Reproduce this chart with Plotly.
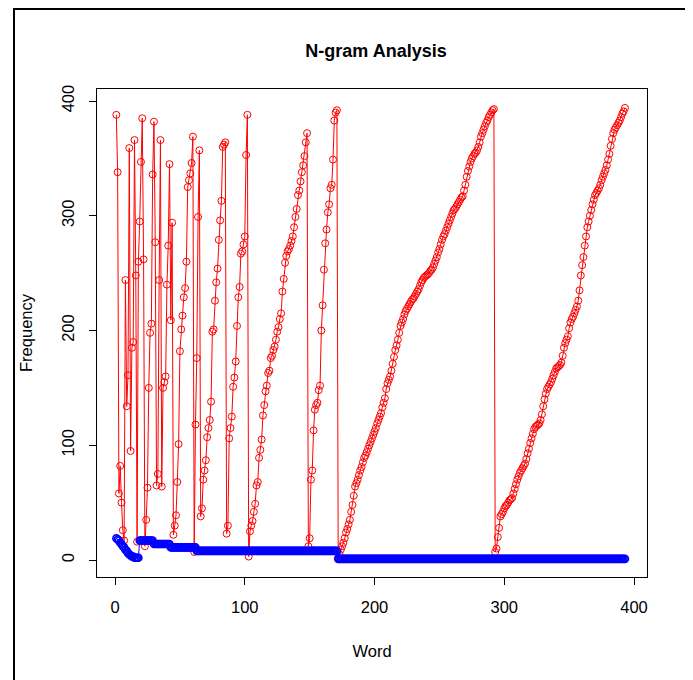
import plotly.graph_objects as go

# ---- data ----
red_early = [388, 338, 58, 82, 50, 26, 17, 244, 134, 161,
             359, 95, 185, 190, 366, 248, 16, 260, 295, 347,
             385, 262, 12, 35, 63, 150, 198, 206, 336, 382,
             277, 65, 75, 244, 366, 64, 150, 155, 160, 240,
             274, 345, 209, 294, 22, 30, 39, 68, 101, 182,
             201, 213, 229, 237, 260, 325, 331, 337, 346, 369,
             7, 118, 176, 299, 357, 38, 45, 70, 78, 87,
             107, 115, 122, 138, 199, 201, 226, 242, 254, 279,
             296, 313, 360, 362, 364, 23, 30, 106, 115, 125,
             151, 159, 173, 204, 229, 238, 267, 269, 275, 282,
             353, 388, 3]
red_run2 = [25, 30, 34, 42, 49, 65, 68, 89, 96, 105,
            126, 135, 147, 152, 163, 165, 176, 178, 183, 186,
            192, 199, 203, 210, 215, 234, 245, 259, 265, 269,
            271, 274, 278, 282, 290, 299, 306, 318, 322, 330,
            338, 344, 352, 364, 372, 12, 19]
red_run3 = [70, 78, 113, 131, 135, 137, 148, 152, 200, 222,
            253, 276, 288, 303, 310, 324, 327, 349, 383, 390,
            392]
red_run4 = [2, 5, 9, 12, 15, 19, 24, 27, 31, 35,
            42, 48, 56, 64, 67, 70, 74, 78, 81, 85,
            89, 91, 94, 97, 100, 103, 106, 109, 112, 115,
            119, 122, 125, 128, 133, 137, 141, 149, 154, 157,
            160, 165, 171, 177, 183, 187, 192, 198, 204, 207,
            210, 214, 217, 219, 221, 223, 225, 227, 228, 230,
            232, 234, 236, 239, 242, 244, 246, 247, 248, 249,
            250, 252, 253, 255, 258, 261, 264, 268, 271, 275,
            279, 282, 284, 287, 290, 293, 296, 299, 302, 305,
            306, 308, 310, 312, 314, 316, 317, 322, 327, 334,
            339, 343, 347, 350, 352, 354, 355, 357, 360, 364,
            369, 372, 375, 378, 381, 383, 386, 388, 390, 392,
            393]
red_run5 = [7, 10, 20, 28, 38, 40, 42, 45, 47, 48,
            50, 52, 53, 54, 58, 62, 66, 70, 73, 76,
            78, 80, 82, 84, 88, 93, 97, 102, 106, 110,
            114, 116, 117, 118, 119, 122, 127, 134, 140, 145,
            149, 151, 153, 155, 158, 161, 164, 167, 168, 169,
            170, 172, 178, 185, 189, 192, 195, 202, 207, 210,
            212, 215, 218, 221, 226, 235, 248, 257, 264, 274,
            282, 290, 295, 300, 305, 310, 314, 318, 320, 322,
            324, 327, 331, 334, 337, 340, 344, 349, 354, 361,
            367, 372, 375, 377, 379, 381, 383, 386, 389, 391,
            394]
red = red_early + red_run2 + red_run3 + red_run4 + red_run5

blue_head = [19, 18, 17, 15, 14, 12, 11, 9, 8, 6, 5, 4, 3, 3, 2, 2, 2, 2]
blue_levels = [17, 14, 11, 8, 1]
blue_counts = [11, 13, 20, 109]
blue = list(blue_head)
for lvl, cnt in zip(blue_levels[:-1], blue_counts):
    blue += [lvl] * cnt
blue += [blue_levels[-1]] * (len(red) - len(blue))

words = list(range(1, len(red) + 1))

x_ticks = [0, 100, 200, 300, 400]
y_ticks = [0, 100, 200, 300, 400]

FONT = "Liberation Sans, Arial, sans-serif"

fig = go.Figure()
fig.add_trace(go.Scatter(
    x=words, y=red, mode="lines+markers",
    line=dict(color="#FF0000", width=1),
    marker=dict(symbol="circle-open", size=7, color="#FF0000", line=dict(width=1)),
    showlegend=False))
fig.add_trace(go.Scatter(
    x=words, y=blue, mode="lines+markers",
    line=dict(color="#0000FF", width=1),
    marker=dict(symbol="circle-open", size=7, color="#0000FF", line=dict(width=1.6)),
    showlegend=False))

axis_common = dict(
    showgrid=False, zeroline=False, showline=True, mirror=True,
    linecolor="black", linewidth=1, ticks="outside", ticklen=7,
    tickwidth=1, tickcolor="black", automargin=False,
    ticklabelstandoff=8,
    tickfont=dict(family=FONT, size=16.5, color="black"),
)

# The page body has an 8px margin, so figure coordinates = screen - 8.
L, T, R, B = 89, 81, 639, 569   # plot box in figure pixels
W, H = 693, 680

fig.update_layout(
    width=W, height=H,
    paper_bgcolor="white", plot_bgcolor="white",
    margin=dict(l=L, r=W - R, t=T, b=H - B),
    title=dict(text="<b>N-gram Analysis</b>", x=368 / W, xanchor="center",
               y=1 - 43 / H, yanchor="middle",
               font=dict(family=FONT, size=18, color="black")),
    xaxis=dict(range=[-13.9, 410.0], tickvals=x_ticks,
               title=dict(text="Word", standoff=30,
                          font=dict(family=FONT, size=16.5, color="black")),
               **axis_common),
    yaxis=dict(range=[-14.8, 410.5], tickvals=y_ticks, tickangle=-90,
               title=dict(text="Frequency", standoff=22,
                          font=dict(family=FONT, size=16.5, color="black")),
               **axis_common),
    shapes=[dict(type="rect", xref="paper", yref="paper",
                 x0=(6 - L) / (R - L), x1=(680 - L) / (R - L),
                 y0=(B - 720) / (B - T), y1=(B - 1) / (B - T),
                 line=dict(color="black", width=2), layer="above")],
)

fig.write_html("out.html")
